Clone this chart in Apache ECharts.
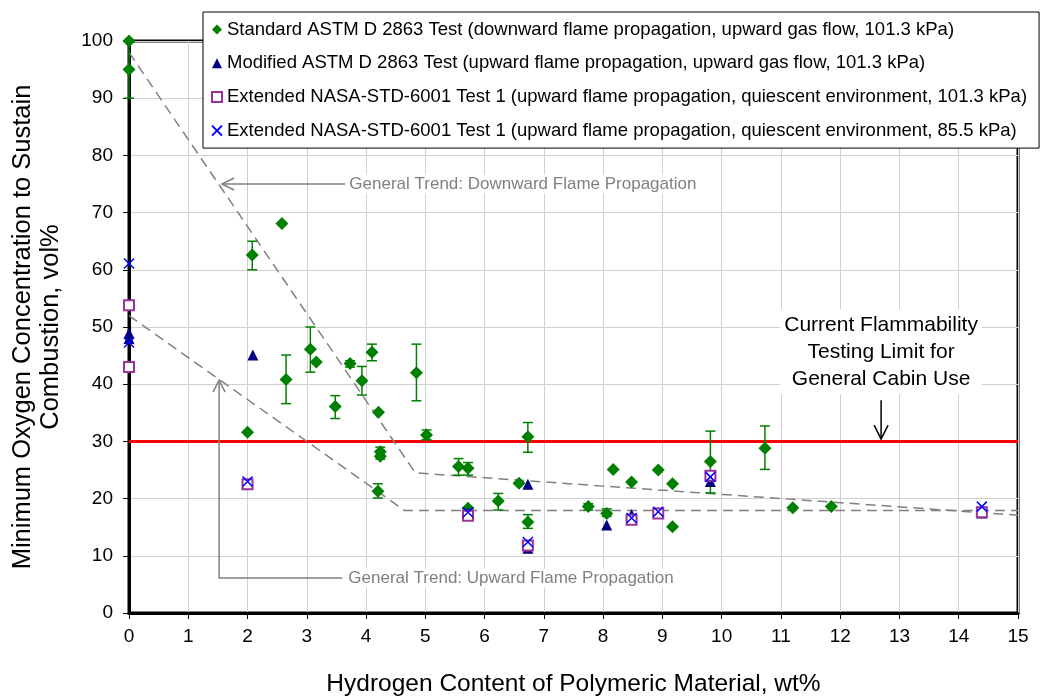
<!DOCTYPE html>
<html><head><meta charset="utf-8">
<script src="https://cdn.jsdelivr.net/npm/echarts@6/dist/echarts.min.js"></script>
<style>html,body{margin:0;padding:0;background:#fff}#c{width:1042px;height:696px}</style>
</head><body><div id="c"></div>
<script>
// ---- data ----
var xTicks = [0,1,2,3,4,5,6,7,8,9,10,11,12,13,14,15];
var yTicks = [0,10,20,30,40,50,60,70,80,90,100];
var stdX = [0,0,2.08,2.58,2.0,2.65,3.06,3.16,3.73,3.48,3.93,4.10,4.21,4.24,4.24,4.85,4.20,5.02,5.56,5.72,5.72,6.23,6.58,6.73,6.73,7.75,8.06,8.17,8.48,8.93,9.17,9.17,9.81,10.73,11.2,11.85];
var stdY = [100,95,62.6,68.1,31.6,40.8,46.1,43.9,43.6,36.1,40.6,45.6,35.1,28.2,27.4,42.0,21.3,31.1,25.6,25.3,18.3,19.6,22.7,30.8,15.9,18.6,17.4,25.1,22.9,25.0,22.6,15.1,26.5,28.8,18.4,18.6];
var errX =    [0,2.08,2.65,3.06,3.73,3.48,3.93,4.10,4.24,4.85,4.20,5.02,5.56,5.72,6.23,6.73,6.73,7.75,8.06,9.81,10.73];
var errLow =  [90,60,36.6,42.1,43,34,38.1,44.1,26.9,37.1,20.1,30.3,24.1,24.1,18,28.1,14.8,18,16.9,21,25.1];
var errHigh = [100,65,45.1,50,44.1,38,43.1,47,29,47,22.6,32,27,26.3,20.9,33.3,17.2,19.1,18.2,31.8,32.7];
var modX = [0,0,0,2.09,2.0,5.72,6.73,6.73,8.06,8.48,8.93,9.81,14.39];
var modY = [54,48.9,48.0,45.1,22.6,17.5,22.5,11.3,15.4,17.2,17.6,23.0,17.5];
var nasa1X = [0,0,2.0,5.72,6.73,8.48,8.93,9.81,14.39];
var nasa1Y = [53.8,43.0,22.5,17.0,11.8,16.3,17.4,24.0,17.6];
var nasa2X = [0,0,2.0,5.72,6.73,8.48,8.93,9.81,14.39];
var nasa2Y = [61.1,47.3,23.0,17.6,12.4,16.6,17.7,23.8,18.6];
var downTrendX = [0,4.83,15], downTrendY = [98,24.5,17.1];
var upTrendX = [0,4.65,15], upTrendY = [52,17.9,17.9];
var limitY = 30;
var names = [
 'Standard ASTM D 2863 Test (downward flame propagation, upward gas flow, 101.3 kPa)',
 'Modified ASTM D 2863 Test (upward flame propagation, upward gas flow, 101.3 kPa)',
 'Extended NASA-STD-6001 Test 1 (upward flame propagation, quiescent environment, 101.3 kPa)',
 'Extended NASA-STD-6001 Test 1 (upward flame propagation, quiescent environment, 85.5 kPa)'
];
var downLabel = 'General Trend: Downward Flame Propagation';
var upLabel = 'General Trend: Upward Flame Propagation';
var limitLabel = 'Current Flammability\nTesting Limit for\nGeneral Cabin Use';
// annotation anchor points (data coords)
var downArrow = [[3.65,75],[1.57,75]];
var upArrow = [[3.6,6.1],[1.52,6.1],[1.52,40.7]];
var limitArrow = [[12.69,37.2],[12.69,30.4]];

function zip(a,b){return a.map(function(v,i){return [v,b[i]];});}
var FONT = '"Liberation Sans", Arial, sans-serif';
var xMark = 'path://M0,0L10,10M10,0L0,10';

var chart = echarts.init(document.getElementById('c'), null, {renderer:'canvas'});
var option = {
  animation:false,
  textStyle:{fontFamily:FONT},
  grid:{left:129,right:24,top:41,bottom:83,show:true,borderColor:'#000',borderWidth:3,backgroundColor:'transparent',outerBoundsMode:'none',containLabel:false},
  legend:{
    orient:'vertical', left:203, top:12, backgroundColor:'#fff', borderColor:'#000', borderWidth:1,
    padding:[8,12,8,8], itemGap:14.7, itemWidth:10, itemHeight:10,
    textStyle:{fontFamily:FONT,fontSize:18.5,color:'#000'},
    data:names
  },
  xAxis:{type:'value',min:0,max:15,interval:1,
    name:'Hydrogen Content of Polymeric Material, wt%',nameLocation:'middle',nameGap:59,
    nameTextStyle:{fontSize:24.5,color:'#000',fontFamily:FONT},
    axisLine:{show:true,lineStyle:{color:'#000',width:3}},
    axisTick:{show:true,length:6,lineStyle:{color:'#000',width:1}},
    axisLabel:{fontSize:19,color:'#000',margin:14,fontFamily:FONT},
    splitLine:{show:true,lineStyle:{color:'#d0d0d0',width:1}}},
  yAxis:{type:'value',min:0,max:100,interval:10,
    name:'Minimum Oxygen Concentration to Sustain\nCombustion, vol%',nameLocation:'middle',nameGap:64,
    nameTextStyle:{fontSize:25.5,color:'#000',fontFamily:FONT,lineHeight:28},
    axisLine:{show:true,lineStyle:{color:'#000',width:3}},
    axisTick:{show:true,length:6,lineStyle:{color:'#000',width:1}},
    axisLabel:{fontSize:19,color:'#000',margin:16,fontFamily:FONT},
    splitLine:{show:true,lineStyle:{color:'#d0d0d0',width:1}}},
  series:[
    {name:'limit',type:'line',data:[[0,limitY],[15,limitY]],symbol:'none',lineStyle:{color:'#ff0000',width:3},z:3},
    {name:'down',type:'line',data:zip(downTrendX,downTrendY),symbol:'none',lineStyle:{color:'#808080',width:1.5,type:[10,6]},z:3},
    {name:'up',type:'line',data:zip(upTrendX,upTrendY),symbol:'none',lineStyle:{color:'#808080',width:1.5,type:[10,6]},z:3},
    {name:'err',type:'custom',z:4,
      data:errX.map(function(x,i){return [x,errLow[i],errHigh[i]];}),
      renderItem:function(params,api){
        var lo=api.coord([api.value(0),api.value(1)]);
        var hi=api.coord([api.value(0),api.value(2)]);
        var w=5;
        var st={stroke:'#008000',lineWidth:1.5};
        return {type:'group',children:[
          {type:'line',shape:{x1:lo[0],y1:lo[1],x2:hi[0],y2:hi[1]},style:st},
          {type:'line',shape:{x1:lo[0]-w,y1:lo[1],x2:lo[0]+w,y2:lo[1]},style:st},
          {type:'line',shape:{x1:hi[0]-w,y1:hi[1],x2:hi[0]+w,y2:hi[1]},style:st}
        ]};
      }},
    {name:names[0],type:'scatter',data:zip(stdX,stdY),symbol:'diamond',symbolSize:13,itemStyle:{color:'#008000',opacity:1},z:5},
    {name:names[1],type:'scatter',data:zip(modX,modY),symbol:'triangle',symbolSize:11,itemStyle:{color:'#000080',opacity:1},z:6},
    {name:names[2],type:'scatter',data:zip(nasa1X,nasa1Y),symbol:'emptyRect',symbolSize:10,itemStyle:{color:'#993399',borderColor:'#993399',borderWidth:1.5,opacity:1},z:7},
    {name:names[3],type:'scatter',data:zip(nasa2X,nasa2Y),symbol:xMark,symbolSize:10,itemStyle:{color:'#0000ff',borderColor:'#0000ff',borderWidth:1.5,opacity:1},z:8}
  ]
};
chart.setOption(option);

function px(p){return chart.convertToPixel({gridIndex:0},p);}
function arrowHead(tip,from,size,color){
  var dx=tip[0]-from[0], dy=tip[1]-from[1], L=Math.sqrt(dx*dx+dy*dy); dx/=L; dy/=L;
  var nx=-dy, ny=dx;
  return {type:'polyline',shape:{points:[[tip[0]-dx*size+nx*size*0.5,tip[1]-dy*size+ny*size*0.5],tip,[tip[0]-dx*size-nx*size*0.5,tip[1]-dy*size-ny*size*0.5]]},style:{stroke:color,lineWidth:1.5,fill:null},z:50};
}
var dA=downArrow.map(px), uA=upArrow.map(px), lA=limitArrow.map(px);
var graphics=[
  {type:'polyline',shape:{points:dA},style:{stroke:'#808080',lineWidth:1.5,fill:null},z:50},
  arrowHead(dA[1],dA[0],12,'#808080'),
  {type:'text',x:dA[0][0]+2,y:dA[0][1],style:{text:downLabel,fill:'#808080',font:'17px '+FONT,textVerticalAlign:'middle',backgroundColor:'#fff',padding:[1,2]},z:50},
  {type:'polyline',shape:{points:uA},style:{stroke:'#808080',lineWidth:1.5,fill:null},z:50},
  arrowHead(uA[2],uA[1],12,'#808080'),
  {type:'text',x:uA[0][0]+4,y:uA[0][1],style:{text:upLabel,fill:'#808080',font:'17px '+FONT,textVerticalAlign:'middle',backgroundColor:'#fff',padding:[1,2]},z:50},
  {type:'polyline',shape:{points:lA},style:{stroke:'#000',lineWidth:1.5,fill:null},z:50},
  arrowHead(lA[1],lA[0],14,'#000'),
  {type:'text',x:lA[0][0],y:lA[0][1]-6,style:{text:limitLabel,fill:'#000',font:'21px '+FONT,textAlign:'center',textVerticalAlign:'bottom',lineHeight:27,backgroundColor:'#fff',padding:[2,4]},z:50}
];
chart.setOption({graphic:graphics});
</script>
</body></html>
